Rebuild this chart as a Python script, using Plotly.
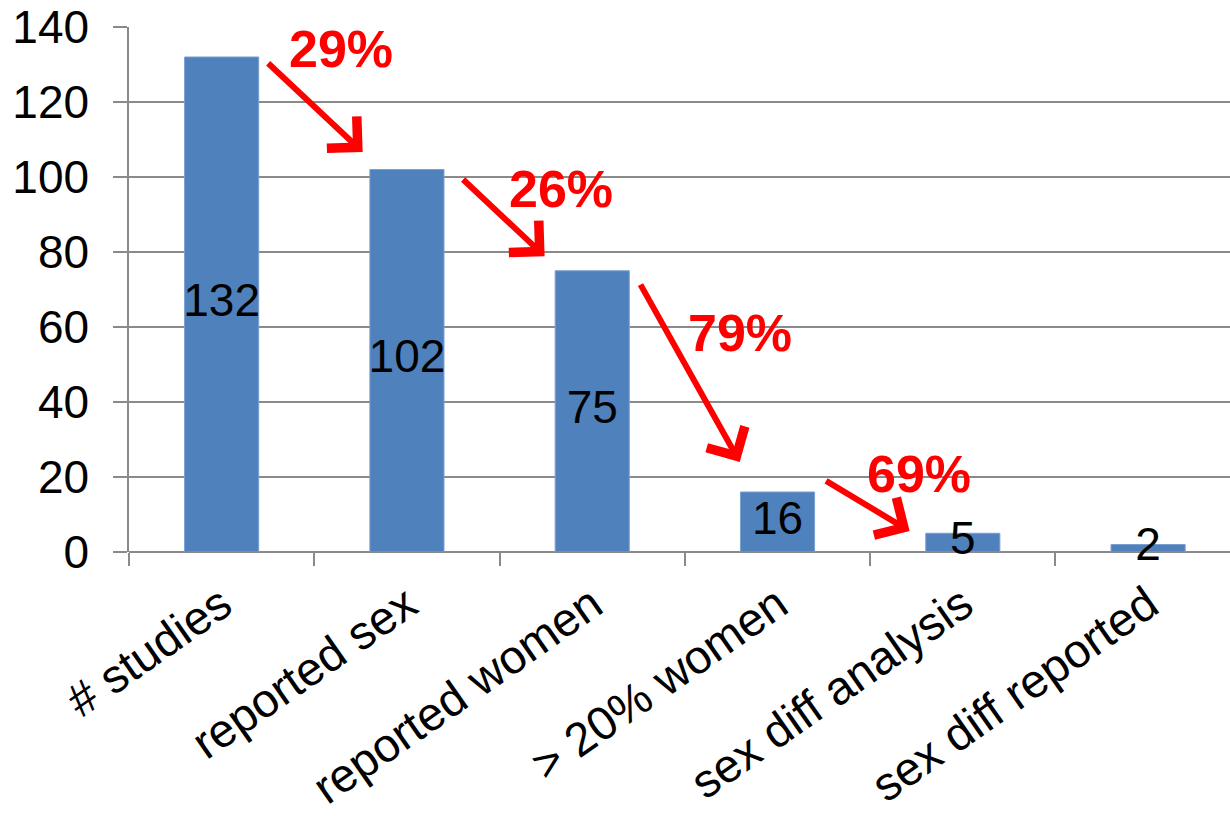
import plotly.graph_objects as go

# Study funnel: counts at each filtering stage
categories = ["# studies", "reported sex", "reported women", "> 20% women",
              "sex diff analysis", "sex diff reported"]
counts = [132, 102, 75, 16, 5, 2]

# Drop-off labels between consecutive stages
drop_labels = ["29%", "26%", "79%", "69%"]

FONT = "Arial, Liberation Sans, sans-serif"
BAR_BLUE = "#4F81BD"
GRID = "#8a8a8a"

fig = go.Figure()

fig.add_trace(go.Bar(
    x=categories,
    y=counts,
    width=0.4,
    marker=dict(color=BAR_BLUE, line=dict(color="#7b9fcf", width=1)),
    hoverinfo="skip",
    showlegend=False,
))

# Value labels centred on each bar
fig.add_trace(go.Scatter(
    x=categories,
    y=[v / 2 for v in counts],
    mode="text",
    text=[str(v) for v in counts],
    textposition="middle center",
    textfont=dict(family=FONT, size=46, color="black"),
    cliponaxis=False,
    hoverinfo="skip",
    showlegend=False,
))

# Arrow geometry (tail -> tip, in axis units) and drop label anchors
arrow_tails = [(0.243, 130.7), (1.295, 99.7), (2.256, 71.7), (3.254, 19.2)]
arrow_tips = [(0.761, 106.7), (1.743, 78.9), (2.796, 24.0), (3.713, 5.6)]
label_pos = [(0.642, 134.1), (1.830, 96.8), (2.796, 58.4), (3.762, 20.8)]

annotations = []
for (tx, ty), (hx, hy) in zip(arrow_tails, arrow_tips):
    annotations.append(dict(
        x=hx, y=hy, xref="x", yref="y",
        ax=tx, ay=ty, axref="x", ayref="y",
        text="", showarrow=True,
        arrowhead=4, arrowsize=1.4, arrowwidth=6, arrowcolor="#ff0000",
        standoff=0, startstandoff=0,
    ))
for (lx, ly), txt in zip(label_pos, drop_labels):
    annotations.append(dict(
        x=lx, y=ly, xref="x", yref="y",
        text=f"<b>{txt}</b>", showarrow=False,
        font=dict(family=FONT, size=52, color="#ff0000"),
        xanchor="center", yanchor="middle",
    ))

fig.update_layout(
    width=1230, height=816,
    margin=dict(l=129, r=0, t=27, b=264),
    paper_bgcolor="white",
    plot_bgcolor="white",
    annotations=annotations,
    font=dict(family=FONT, color="black"),
)

fig.update_xaxes(
    type="category",
    range=[-0.5, 5.442],
    automargin=False,
    tickson="boundaries",
    ticks="outside",
    ticklen=13,
    tickwidth=1.5,
    tickcolor=GRID,
    tickangle=-35,
    tickfont=dict(family=FONT, size=47, color="black"),
    ticklabelstandoff=15,
    showgrid=False,
    showline=False,
    zeroline=False,
)

fig.update_yaxes(
    range=[0, 140],
    dtick=20,
    automargin=False,
    ticks="outside",
    ticklen=14,
    tickwidth=1.5,
    tickcolor=GRID,
    showgrid=True,
    gridcolor=GRID,
    gridwidth=1.5,
    showline=True,
    linecolor=GRID,
    linewidth=1.5,
    zeroline=True,
    zerolinecolor=GRID,
    zerolinewidth=1.5,
    tickfont=dict(family=FONT, size=46, color="black"),
    ticklabelstandoff=15,
)

fig.write_html("out.html")
